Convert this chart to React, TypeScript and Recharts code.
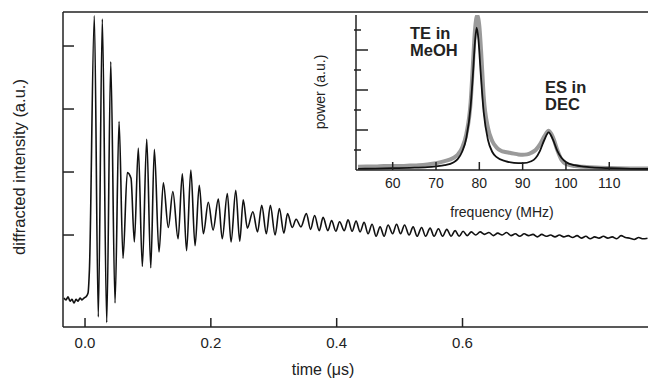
import React from 'react';
import { LineChart, Line, XAxis, YAxis, ReferenceLine } from 'recharts';

// main trace: time (µs) vs diffracted intensity (a.u.)
const time = [
  -0.0334, -0.0302, -0.0270, -0.0238, -0.0207, -0.0175, -0.0143, -0.0111, -0.0079, -0.0048,
  -0.0016, 0.0016, 0.0048, 0.0070,
  0.0148, 0.0211, 0.0275, 0.0345, 0.0409, 0.0477, 0.0541, 0.0604, 0.0672, 0.0731,
  0.0784, 0.0847, 0.0911, 0.0981, 0.1045, 0.1102, 0.1176, 0.1245, 0.1324, 0.1396,
  0.1479, 0.1547, 0.1614, 0.1682, 0.1749, 0.1816, 0.1881, 0.1960, 0.2035, 0.2119,
  0.2181, 0.2262, 0.2321, 0.2396, 0.2459, 0.2515, 0.2580, 0.2668, 0.2742, 0.2809,
  0.2882, 0.2946, 0.3021, 0.3089, 0.3161, 0.3219, 0.3294, 0.3355, 0.3431, 0.3518,
  0.3585, 0.3649, 0.3723, 0.3784, 0.3860, 0.3919, 0.3987, 0.4046, 0.4121, 0.4181,
  0.4245, 0.4308, 0.4372, 0.4436, 0.4499, 0.4563, 0.4626, 0.4690, 0.4754, 0.4817,
  0.4889, 0.4952, 0.5016, 0.5079, 0.5151, 0.5215, 0.5278, 0.5350, 0.5413, 0.5485,
  0.5548, 0.5617, 0.5684, 0.5750, 0.5819, 0.5882, 0.5946, 0.6010, 0.6073,
  0.614, 0.621, 0.628, 0.635, 0.642, 0.649, 0.656, 0.663, 0.670, 0.677,
  0.684, 0.691, 0.698, 0.705, 0.712, 0.719, 0.726, 0.733, 0.740, 0.747,
  0.754, 0.761, 0.768, 0.775, 0.782, 0.789, 0.796, 0.803, 0.810, 0.817,
  0.824, 0.831, 0.838, 0.845, 0.852, 0.859, 0.866, 0.873, 0.880, 0.887,
  0.894,
];

const intensity = [
  0.00, -0.03, 0.02, -0.05, -0.02, -0.08, -0.02, -0.05, 0.00, -0.03,
  0.00, 0.02, 0.08, 0.45,
  4.48, -0.30, 4.43, -0.39, 3.75, -0.08, 2.80, 0.63, 1.99, 1.90,
  0.89, 2.38, 0.50, 2.52, 0.48, 2.36, 0.73, 1.83, 1.12, 1.69,
  0.94, 1.97, 0.75, 2.03, 0.83, 1.79, 1.02, 1.52, 1.08, 1.57,
  0.94, 1.66, 0.89, 1.71, 0.90, 1.56, 1.11, 1.37, 1.05, 1.47,
  1.02, 1.47, 1.00, 1.42, 1.03, 1.34, 1.12, 1.25, 1.13, 1.34,
  1.09, 1.31, 1.07, 1.28, 1.07, 1.23, 1.06, 1.21, 1.07, 1.24,
  1.06, 1.22, 1.05, 1.20, 1.02, 1.17, 0.98, 1.13, 0.98, 1.16,
  1.02, 1.17, 1.02, 1.16, 1.00, 1.13, 0.98, 1.12, 0.98, 1.11,
  0.98, 1.10, 0.98, 1.09, 0.98, 1.07, 0.98, 1.06, 0.99,
  1.05, 1.00, 1.05, 1.01, 1.04, 0.99, 1.03, 1.00, 1.04, 0.99,
  1.02, 0.98, 1.02, 0.99, 1.01, 0.97, 1.01, 0.98, 1.00, 0.97,
  1.00, 0.97, 0.99, 0.96, 0.99, 0.95, 0.98, 0.94, 0.97, 0.95,
  0.98, 0.95, 0.97, 0.94, 0.99, 0.96, 0.95, 0.93, 0.96, 0.94,
  0.95,
];

// inset: measured power spectrum (grey) and fit (black)
const specFreq = [
  52, 54, 56, 58, 60, 62, 64, 66, 68, 70,
  72, 74, 75, 76, 77, 78, 78.5, 79, 79.5, 80,
  80.5, 81, 82, 83, 84, 85, 86, 87, 88, 89,
  90, 91, 92, 93, 94, 95, 96, 97, 98, 99,
  100, 102, 104, 107, 110, 115, 119.4,
];
const specPower = [
  0.08, 0.09, 0.09, 0.1, 0.1, 0.1, 0.11, 0.12, 0.14, 0.17,
  0.22, 0.3, 0.38, 0.55, 0.9, 1.7, 2.6, 3.5, 3.86, 3.6,
  2.8, 1.85, 1.05, 0.72, 0.56, 0.48, 0.45, 0.43, 0.41, 0.39,
  0.38, 0.39, 0.43, 0.5, 0.64, 0.84, 0.98, 0.82, 0.5, 0.25,
  0.15, 0.1, 0.08, 0.06, 0.05, 0.04, 0.04,
];
const fitFreq = [
  52, 56, 60, 64, 68, 70, 72, 74, 75, 76,
  77, 78, 78.5, 79, 79.4, 79.8, 80.3, 81, 82, 83,
  84, 86, 88, 90, 92, 93, 94, 95, 96, 97,
  98, 99, 100, 102, 104, 106, 110, 115, 119.4,
];
const fitPower = [
  0.03, 0.035, 0.045, 0.055, 0.07, 0.09, 0.12, 0.19, 0.27, 0.45,
  0.8, 1.6, 2.35, 3.2, 3.56, 3.25, 2.45, 1.45, 0.75, 0.45,
  0.32, 0.22, 0.18, 0.17, 0.22, 0.3, 0.48, 0.75, 0.94, 0.76,
  0.48, 0.3, 0.2, 0.12, 0.085, 0.065, 0.045, 0.03, 0.025,
];

const timeTicks = [0, 0.2, 0.4, 0.6];
const intensityTicks = [1, 2, 3, 4];
const freqTicks = [60, 70, 80, 90, 100, 110];
const powerMajor = [1, 2, 3];
const powerMinor = [0.5, 1.5, 2.5, 3.5];

const FONT = "'Liberation Sans', Arial, Helvetica, sans-serif";
const INK = '#222';

const traceData = time.map((t, i) => ({ t, v: intensity[i] }));
const specData = specFreq.map((f, i) => ({ f, p: specPower[i] }));
const fitData = fitFreq.map((f, i) => ({ f, p: fitPower[i] }));

const Title = ({ x, y, size, angle, bold, anchor, children }: any) => (
  <text
    x={x}
    y={y}
    transform={angle ? `rotate(${angle} ${x} ${y})` : undefined}
    textAnchor={anchor || 'middle'}
    fontSize={size}
    fontWeight={bold ? 'bold' : 'normal'}
    fontFamily={FONT}
    fill={INK}
  >
    {children}
  </text>
);

export default function App() {
  const blank = () => '';
  return (
    <div style={{ position: 'fixed', left: 0, top: 0, width: 648, height: 381, overflow: 'hidden', background: '#fff' }}>
      <div style={{ position: 'absolute', left: 0, top: 0 }}>
        <LineChart width={650} height={381} data={traceData} margin={{ top: 12, right: 0, bottom: 24, left: 61 }}>
          <XAxis
            dataKey="t"
            type="number"
            domain={[-0.035, 0.898]}
            ticks={timeTicks}
            tickFormatter={(v: number) => v.toFixed(1)}
            tickSize={-9}
            tickMargin={19}
            height={30}
            stroke={INK}
            strokeWidth={1.5}
            tick={{ fill: INK, fontSize: 15, fontFamily: FONT }}
            allowDataOverflow
          />
          <YAxis
            type="number"
            domain={[-0.46, 4.54]}
            ticks={intensityTicks}
            tickFormatter={blank}
            width={2}
            tickSize={-11}
            stroke={INK}
            strokeWidth={1.5}
            allowDataOverflow
          />
          <ReferenceLine y={4.54} stroke={INK} strokeWidth={1.5} />
          <Line dataKey="v" type="monotone" stroke="#111" strokeWidth={1.6} dot={false} isAnimationActive={false} />
          <Title x={323} y={375} size={16}>time (μs)</Title>
          <Title x={25} y={167} size={16.5} angle={-90}>diffracted intensity (a.u.)</Title>
        </LineChart>
      </div>
      <div style={{ position: 'absolute', left: 0, top: 0 }}>
        <LineChart width={650} height={240} margin={{ top: 15, right: 0, bottom: 40, left: 352 }}>
          <XAxis
            dataKey="f"
            type="number"
            domain={[51.53, 119.4]}
            ticks={freqTicks}
            tickSize={-8}
            tickMargin={16}
            height={30}
            stroke={INK}
            strokeWidth={1.5}
            tick={{ fill: INK, fontSize: 14, fontFamily: FONT }}
            allowDataOverflow
          />
          <YAxis
            yAxisId="major"
            type="number"
            domain={[0, 3.875]}
            ticks={powerMajor}
            tickFormatter={blank}
            width={2}
            tickSize={-12}
            stroke={INK}
            strokeWidth={1.5}
            allowDataOverflow
          />
          <YAxis
            yAxisId="minor"
            type="number"
            domain={[0, 3.875]}
            ticks={powerMinor}
            tickFormatter={blank}
            width={2}
            tickSize={-7}
            axisLine={false}
            stroke={INK}
            strokeWidth={1.5}
            allowDataOverflow
          />
          <Line yAxisId="major" data={specData} dataKey="p" type="monotone" stroke="#9a9a9a" strokeWidth={4} dot={false} isAnimationActive={false} />
          <Line yAxisId="major" data={fitData} dataKey="p" type="monotone" stroke="#111" strokeWidth={1.8} dot={false} isAnimationActive={false} />
          <Title x={502} y={217} size={14}>frequency (MHz)</Title>
          <Title x={325} y={92} size={14} angle={-90}>power (a.u.)</Title>
          <Title x={410} y={39} size={16.5} bold anchor="start">TE in</Title>
          <Title x={410} y={56} size={16.5} bold anchor="start">MeOH</Title>
          <Title x={545} y={93} size={16.5} bold anchor="start">ES in</Title>
          <Title x={545} y={110} size={16.5} bold anchor="start">DEC</Title>
        </LineChart>
      </div>
    </div>
  );
}
